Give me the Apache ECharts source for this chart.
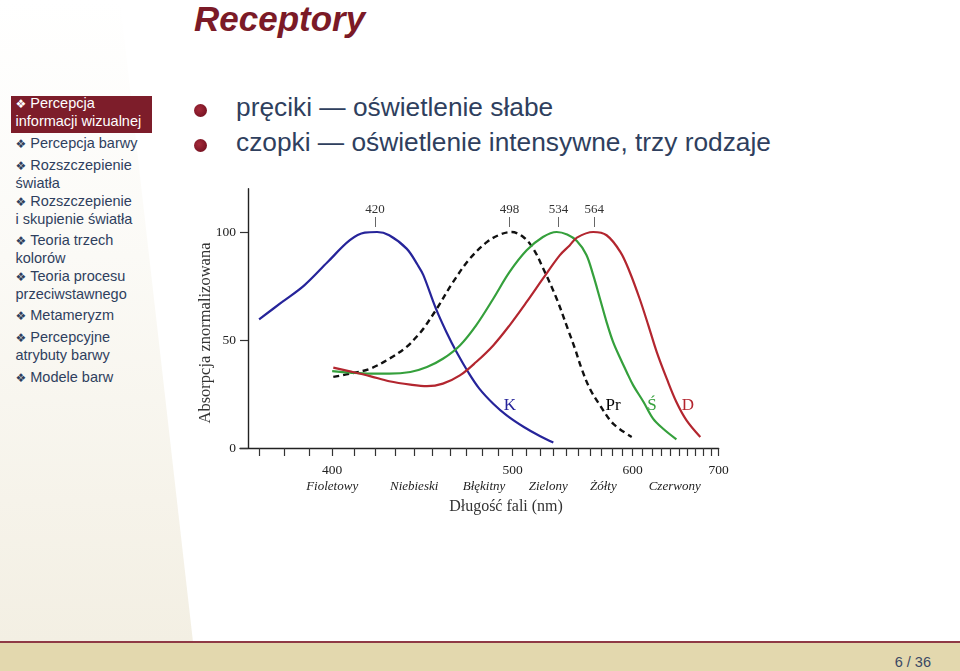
<!DOCTYPE html>
<html>
<head>
<meta charset="utf-8">
<title>Receptory</title>
<script src="https://cdn.jsdelivr.net/npm/echarts@6/dist/echarts.min.js"></script>
<style>
  html, body { margin: 0; padding: 0; }
  body {
    width: 960px; height: 671px; position: relative; overflow: hidden;
    background: #fff; font-family: "Liberation Sans", Arial, sans-serif;
  }
  #sidebar {
    position: absolute; left: 0; top: 0; width: 194px; height: 642px;
    background: linear-gradient(to bottom, #ffffff 0%, #fbfaf6 40%, #f3efe3 100%);
    clip-path: polygon(0 0, 120px 0, 193px 100%, 0 100%);
  }
  .nav {
    position: absolute; left: 15.5px; font-size: 14.5px; line-height: 17px;
    color: #2f3f5e; white-space: nowrap;
  }
  .nav .d { font-family: "DejaVu Sans", sans-serif; font-size: 12px; margin-right: 4px; }
  #current {
    position: absolute; left: 11px; top: 96px; width: 141px; height: 37px;
    background: #7d1d2a;
  }
  .nav.on { color: #fff; }
  #title {
    position: absolute; left: 194px; top: 1px; font-size: 35px; line-height: 35px;
    font-weight: bold; font-style: italic; color: #7b1a27;
  }
  .bullet {
    position: absolute; left: 194px; width: 13px; height: 13px; border-radius: 50%;
    background: radial-gradient(circle at 40% 40%, #a52a3a, #7a1424 70%);
  }
  .item {
    position: absolute; left: 236px; font-size: 26.3px; line-height: 26px;
    color: #2f3f5e; white-space: nowrap;
  }
  #footer {
    position: absolute; left: 0; top: 641px; width: 960px; height: 30px;
    background: #e3d8ae; border-top: 2px solid #8f3a45; box-sizing: border-box;
  }
  #page {
    position: absolute; right: 29px; top: 654px; font-size: 14.5px; line-height: 17px;
    color: #3a4864;
  }
  #chart { position: absolute; left: 180px; top: 180px; width: 580px; height: 340px; }
</style>
</head>
<body>
<div id="sidebar"></div>
<div id="current"></div>
<div class="nav on" style="top:95px"><span class="d">❖</span>Percepcja<br>informacji wizualnej</div>
<div class="nav" style="top:135px"><span class="d">❖</span>Percepcja barwy</div>
<div class="nav" style="top:157px"><span class="d">❖</span>Rozszczepienie<br>światła</div>
<div class="nav" style="top:193px"><span class="d">❖</span>Rozszczepienie<br>i skupienie światła</div>
<div class="nav" style="top:232px"><span class="d">❖</span>Teoria trzech<br>kolorów</div>
<div class="nav" style="top:268px"><span class="d">❖</span>Teoria procesu<br>przeciwstawnego</div>
<div class="nav" style="top:307px"><span class="d">❖</span>Metameryzm</div>
<div class="nav" style="top:329px"><span class="d">❖</span>Percepcyjne<br>atrybuty barwy</div>
<div class="nav" style="top:369px"><span class="d">❖</span>Modele barw</div>

<div id="title">Receptory</div>
<div class="bullet" style="top:104px"></div>
<div class="item" style="top:94px">pręciki — oświetlenie słabe</div>
<div class="bullet" style="top:139px"></div>
<div class="item" style="top:129px">czopki — oświetlenie intensywne, trzy rodzaje</div>

<div id="chart"></div>

<div id="footer"></div>
<div id="page">6 / 36</div>

<script>
// Widma absorpcji receptorow, dlugosc fali w nm
const kNm  = [370, 379, 388, 398, 408, 415, 421, 427, 436, 442, 445, 452, 458, 464, 471, 478, 487, 496, 508, 520, 530];
const kAbs = [59.6, 67.6, 75.3, 86.1, 96.2, 99.7, 100, 98.5, 92.3, 84.6, 80.0, 64.5, 53.7, 44.4, 35.2, 27.5, 20.5, 15.1, 9.7, 5.4, 2.5];

const prNm  = [400.5, 408, 417.5, 427, 436, 442, 445, 452.5, 462, 472, 483, 491.5, 499.4, 507.6, 514.8, 522.3, 532.6, 541.9, 547.4, 553, 560, 569, 581, 599];
const prAbs = [32.9, 34.4, 36.7, 41.3, 46.8, 52.2, 55.2, 64.5, 76.9, 87.6, 95.4, 98.8, 100, 97.7, 92.3, 83.0, 69.1, 54.5, 46.0, 36.7, 27.5, 19.8, 11.3, 5.1];

const sNm  = [400, 408, 417.5, 427, 438, 447, 456, 466, 476, 487, 498, 510, 522, 532.6, 541, 549, 557, 563, 569, 575, 581, 588, 594, 600.5, 611, 621, 632, 647];
const sAbs = [35.6, 34.9, 34.4, 34.4, 35.2, 37.5, 41.3, 47.5, 56.8, 69.1, 81.5, 91.5, 97.7, 100, 98.8, 95.8, 89.5, 80.0, 69.1, 58.3, 49.1, 41.3, 35.2, 29.0, 21.3, 13.6, 8.9, 4.0];

const dNm  = [400.5, 408, 417.5, 427, 438, 447, 456, 466, 476, 487, 498, 510, 522, 535, 543, 549, 563, 575, 588, 597, 607, 616, 625, 636, 647, 659, 676];
const dAbs = [37.2, 35.5, 33.3, 30.9, 29.3, 28.6, 29.8, 33.6, 39.8, 47.5, 56.8, 67.6, 78.4, 89.2, 93.8, 97.4, 100, 98.5, 90.7, 81.5, 69.1, 56.8, 44.4, 32.1, 21.3, 12.8, 5.1];

// Opisy osi
const tickNm = [];
for (let nm = 370; nm <= 700; nm += 10) tickNm.push(nm);
const labelNm = [400, 500, 600, 700];
const peakNm = [420, 498, 534, 564];
const colorNames = ["Fioletowy", "Niebieski", "Błękitny", "Zielony", "Żółty", "Czerwony"];
const colorAtNm = [400, 440, 481, 526, 572, 645];
const yTicks = [0, 50, 100];

const serif = '"Liberation Serif", "DejaVu Serif", serif';
// os x jest odwrotnoscia dlugosci fali (jak na oryginalnym wykresie)
const toX = (nm) => 1e7 / nm;
const pairs = (xs, ys) => xs.map((nm, i) => [toX(nm), ys[i]]);
const xMin = toX(700);
const xMax = toX(362.9);

const chart = echarts.init(document.getElementById("chart"));

const lineSeries = (name, xs, ys, color, dashed) => ({
  name: name,
  type: "line",
  data: pairs(xs, ys),
  smooth: 0.35,
  showSymbol: false,
  silent: true,
  lineStyle: { color: color, width: dashed ? 2.4 : 2.2, type: dashed ? [6, 4] : "solid" },
});

chart.setOption({
  animation: false,
  grid: [
    { left: 60, right: 41.4, top: 8.8, bottom: 72 },
    // pasek z dlugosciami fal szczytow
    { left: 60, right: 41.4, top: 47, height: 1 },
  ],
  xAxis: [
    {
      type: "value", inverse: true, min: xMin, max: xMax,
      axisLine: { onZero: false, lineStyle: { color: "#222", width: 1.4 } },
      axisTick: { length: 8, lineStyle: { color: "#333", width: 1.2 }, customValues: tickNm.map(toX) },
      axisLabel: {
        customValues: labelNm.map(toX), margin: 15,
        formatter: (v) => Math.round(1e7 / v),
        fontFamily: serif, fontSize: 13.5, color: "#222",
      },
      splitLine: { show: false },
    },
    {
      type: "value", inverse: true, position: "bottom", offset: 19, min: xMin, max: xMax,
      axisLine: { show: false },
      axisTick: { show: false },
      axisLabel: {
        customValues: colorAtNm.map(toX), margin: 13,
        formatter: (v) => colorNames[colorAtNm.findIndex((nm) => Math.abs(toX(nm) - v) < 1)],
        fontFamily: serif, fontSize: 13, fontStyle: "italic", color: "#222",
      },
      splitLine: { show: false },
    },
    {
      gridIndex: 1, type: "value", inverse: true, position: "top", min: xMin, max: xMax,
      axisLine: { show: false, onZero: false },
      axisTick: { length: 10, lineStyle: { color: "#666", width: 1 }, customValues: peakNm.map(toX) },
      axisLabel: {
        customValues: peakNm.map(toX), margin: 11,
        formatter: (v) => Math.round(1e7 / v),
        fontFamily: serif, fontSize: 13, color: "#333",
      },
      splitLine: { show: false },
    },
  ],
  yAxis: [
    {
      type: "value", min: 0, max: 120, offset: -8,
      axisLine: { show: true, onZero: false, lineStyle: { color: "#222", width: 1.4 } },
      axisTick: { show: true, length: 8, lineStyle: { color: "#333", width: 1.2 }, customValues: yTicks },
      axisLabel: { customValues: yTicks, margin: 12, fontFamily: serif, fontSize: 13.5, color: "#222" },
      splitLine: { show: false },
    },
    { gridIndex: 1, type: "value", show: false },
  ],
  series: [
    lineSeries("K", kNm, kAbs, "#26249a", false),
    lineSeries("Pr", prNm, prAbs, "#111111", true),
    lineSeries("Ś", sNm, sAbs, "#35a03c", false),
    lineSeries("D", dNm, dAbs, "#b3262f", false),
  ],
  graphic: [
    {
      type: "text", x: 26, y: 153, rotation: Math.PI / 2,
      style: { text: "Absorpcja znormalizowana", fontFamily: serif, fontSize: 16.5, fill: "#333", align: "center", verticalAlign: "middle" },
    },
    {
      type: "text", x: 326, y: 327,
      style: { text: "Długość fali (nm)", fontFamily: serif, fontSize: 16, fill: "#333", align: "center", verticalAlign: "middle" },
    },
    { type: "text", x: 330, y: 226, style: { text: "K", fontFamily: serif, fontSize: 17, fill: "#26249a", align: "center", verticalAlign: "middle" } },
    { type: "text", x: 433, y: 226, style: { text: "Pr", fontFamily: serif, fontSize: 17, fill: "#000", align: "center", verticalAlign: "middle" } },
    { type: "text", x: 472, y: 226, style: { text: "Ś", fontFamily: serif, fontSize: 17, fill: "#35a03c", align: "center", verticalAlign: "middle" } },
    { type: "text", x: 508, y: 226, style: { text: "D", fontFamily: serif, fontSize: 17, fill: "#b3262f", align: "center", verticalAlign: "middle" } },
  ],
});
</script>
</body>
</html>
